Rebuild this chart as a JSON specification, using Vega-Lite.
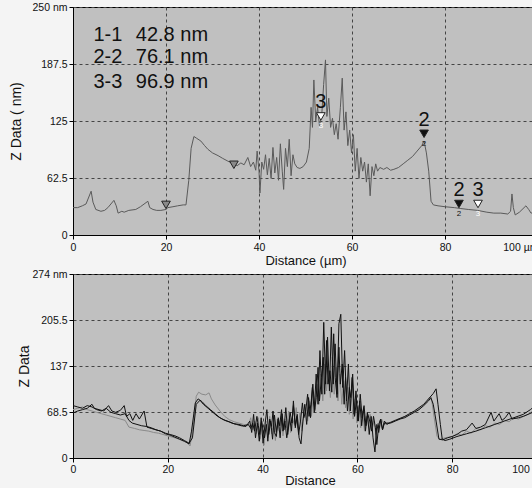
{
  "$schema": "https://vega.github.io/schema/vega-lite/v6.json",
  "background": "#f4f4f4",
  "padding": {"left": 8, "top": 1, "right": -6, "bottom": 0},
  "config": {
    "font": "Liberation Sans",
    "view": {"fill": "#c0c0c0", "stroke": "#000", "strokeWidth": 1},
    "axis": {"labelFont": "Liberation Sans", "labelFontSize": 10.5, "labelColor": "#111", "titleFont": "Liberation Sans", "titleFontWeight": "normal", "titleColor": "#111", "domainColor": "#000", "tickColor": "#000", "tickSize": 4, "gridColor": "#444", "gridDash": [3, 3], "gridOpacity": 1, "gridWidth": 1},
    "axisX": {"labelPadding": 3, "titlePadding": 2, "titleFontSize": 13},
    "axisY": {"labelPadding": 2, "titleFontSize": 14}
  },
  "columns": 1,
  "align": "none",
  "spacing": 0,
  "datasets": {
    "top": [
      {"d": 0, "z": 30}, {"d": 1, "z": 30}, {"d": 2, "z": 32}, {"d": 2.8, "z": 34}, {"d": 3.9, "z": 48}, {"d": 4.3, "z": 36}, {"d": 4.9, "z": 28}, {"d": 6.0, "z": 26}, {"d": 6.8, "z": 27}, {"d": 7.5, "z": 30}, {"d": 8.8, "z": 38}, {"d": 9.3, "z": 32}, {"d": 9.7, "z": 24}, {"d": 10.5, "z": 26}, {"d": 11, "z": 25}, {"d": 12, "z": 27}, {"d": 13.5, "z": 28}, {"d": 14.5, "z": 31}, {"d": 16.1, "z": 37}, {"d": 16.5, "z": 30}, {"d": 17.2, "z": 28}, {"d": 18, "z": 27}, {"d": 18.9, "z": 27}, {"d": 20, "z": 28}, {"d": 20.4, "z": 30}, {"d": 21.5, "z": 31}, {"d": 22.5, "z": 32}, {"d": 23.7, "z": 33}, {"d": 24.3, "z": 33}, {"d": 24.9, "z": 60}, {"d": 25.4, "z": 95}, {"d": 26, "z": 108}, {"d": 26.6, "z": 106}, {"d": 27.5, "z": 103}, {"d": 28.3, "z": 98}, {"d": 29, "z": 94}, {"d": 30, "z": 90}, {"d": 31.2, "z": 87}, {"d": 32.2, "z": 84}, {"d": 33.3, "z": 81}, {"d": 34.6, "z": 78}, {"d": 35.3, "z": 76}, {"d": 36.1, "z": 79}, {"d": 36.8, "z": 77}, {"d": 37.6, "z": 85}, {"d": 38.2, "z": 75}, {"d": 38.8, "z": 80}, {"d": 39.3, "z": 71}, {"d": 39.6, "z": 92}, {"d": 40, "z": 70}, {"d": 40.2, "z": 46}, {"d": 40.6, "z": 80}, {"d": 41, "z": 72}, {"d": 41.4, "z": 88}, {"d": 41.8, "z": 66}, {"d": 42.2, "z": 84}, {"d": 42.6, "z": 62}, {"d": 43.0, "z": 96}, {"d": 43.4, "z": 68}, {"d": 43.8, "z": 85}, {"d": 44.2, "z": 60}, {"d": 44.6, "z": 100}, {"d": 45.0, "z": 70}, {"d": 45.3, "z": 50}, {"d": 45.7, "z": 95}, {"d": 46.1, "z": 75}, {"d": 46.5, "z": 105}, {"d": 46.9, "z": 65}, {"d": 47.3, "z": 88}, {"d": 47.7, "z": 78}, {"d": 48.2, "z": 74}, {"d": 48.8, "z": 73}, {"d": 49.5, "z": 75}, {"d": 50.2, "z": 80}, {"d": 50.8, "z": 95}, {"d": 51.2, "z": 140}, {"d": 51.5, "z": 118}, {"d": 51.8, "z": 170}, {"d": 52.2, "z": 125}, {"d": 52.6, "z": 140}, {"d": 53.0, "z": 120}, {"d": 53.5, "z": 132}, {"d": 53.9, "z": 165}, {"d": 54.3, "z": 192}, {"d": 54.6, "z": 130}, {"d": 55.0, "z": 150}, {"d": 55.4, "z": 118}, {"d": 55.8, "z": 128}, {"d": 56.2, "z": 110}, {"d": 56.6, "z": 122}, {"d": 57.0, "z": 105}, {"d": 57.5, "z": 140}, {"d": 57.9, "z": 172}, {"d": 58.3, "z": 115}, {"d": 58.7, "z": 135}, {"d": 59.1, "z": 98}, {"d": 59.5, "z": 115}, {"d": 59.9, "z": 90}, {"d": 60.3, "z": 110}, {"d": 60.7, "z": 70}, {"d": 61.1, "z": 95}, {"d": 61.5, "z": 62}, {"d": 61.9, "z": 85}, {"d": 62.3, "z": 70}, {"d": 62.7, "z": 80}, {"d": 63.1, "z": 58}, {"d": 63.5, "z": 78}, {"d": 63.9, "z": 43}, {"d": 64.3, "z": 75}, {"d": 64.7, "z": 65}, {"d": 65.1, "z": 78}, {"d": 65.5, "z": 70}, {"d": 66, "z": 74}, {"d": 66.8, "z": 72}, {"d": 67.5, "z": 74}, {"d": 68.3, "z": 71}, {"d": 69, "z": 72}, {"d": 70, "z": 74}, {"d": 71, "z": 78}, {"d": 72, "z": 82}, {"d": 73, "z": 86}, {"d": 74, "z": 92}, {"d": 75, "z": 98}, {"d": 75.5, "z": 103}, {"d": 76, "z": 90}, {"d": 76.5, "z": 70}, {"d": 77, "z": 37}, {"d": 77.5, "z": 33}, {"d": 78.5, "z": 32}, {"d": 80, "z": 31}, {"d": 82, "z": 30}, {"d": 83.4, "z": 29}, {"d": 85, "z": 28}, {"d": 87, "z": 27}, {"d": 89, "z": 25}, {"d": 90.5, "z": 24}, {"d": 92, "z": 24}, {"d": 93.5, "z": 23}, {"d": 94.1, "z": 26}, {"d": 94.4, "z": 45}, {"d": 94.7, "z": 30}, {"d": 95.1, "z": 22}, {"d": 96, "z": 25}, {"d": 97.4, "z": 32}, {"d": 98, "z": 28}, {"d": 98.5, "z": 24}, {"d": 99.5, "z": 25}, {"d": 100, "z": 24}
    ],
    "markers": [
      {"d": 20, "z": 33, "kind": "g", "lab": "", "sub": ""},
      {"d": 34.6, "z": 77, "kind": "g", "lab": "", "sub": ""},
      {"d": 53.3, "z": 130, "kind": "w", "lab": "3", "sub": "3"},
      {"d": 75.5, "z": 111, "kind": "b", "lab": "2", "sub": "2"},
      {"d": 83, "z": 34, "kind": "b", "lab": "2", "sub": "2"},
      {"d": 87.1, "z": 34, "kind": "w", "lab": "3", "sub": "3"}
    ],
    "annot": [
      {"d": 4.4, "z": 212.7, "t": "1-1"}, {"d": 13.5, "z": 212.7, "t": "42.8 nm"},
      {"d": 4.4, "z": 188.1, "t": "2-2"}, {"d": 13.5, "z": 188.1, "t": "76.1 nm"},
      {"d": 4.4, "z": 161.2, "t": "3-3"}, {"d": 13.5, "z": 161.2, "t": "96.9 nm"}
    ],
    "bottom": [
      {"s": "c", "d": 0, "z": 72}, {"s": "c", "d": 1, "z": 74}, {"s": "c", "d": 2, "z": 76}, {"s": "c", "d": 3, "z": 72}, {"s": "c", "d": 4, "z": 70}, {"s": "c", "d": 5, "z": 68}, {"s": "c", "d": 6, "z": 66}, {"s": "c", "d": 7, "z": 64}, {"s": "c", "d": 8, "z": 62}, {"s": "c", "d": 9, "z": 60}, {"s": "c", "d": 10, "z": 58}, {"s": "c", "d": 11, "z": 56}, {"s": "c", "d": 11.8, "z": 46}, {"s": "c", "d": 13, "z": 44}, {"s": "c", "d": 14, "z": 42}, {"s": "c", "d": 15, "z": 41}, {"s": "c", "d": 16, "z": 40}, {"s": "c", "d": 17, "z": 38}, {"s": "c", "d": 18, "z": 37}, {"s": "c", "d": 19, "z": 35}, {"s": "c", "d": 20, "z": 33}, {"s": "c", "d": 21, "z": 31}, {"s": "c", "d": 22, "z": 29}, {"s": "c", "d": 23, "z": 26}, {"s": "c", "d": 24, "z": 23}, {"s": "c", "d": 24.7, "z": 18}, {"s": "c", "d": 25.4, "z": 50}, {"s": "c", "d": 26, "z": 92}, {"s": "c", "d": 26.5, "z": 98}, {"s": "c", "d": 27.2, "z": 95}, {"s": "c", "d": 28, "z": 94}, {"s": "c", "d": 28.7, "z": 97}, {"s": "c", "d": 29.2, "z": 88}, {"s": "c", "d": 30, "z": 79}, {"s": "c", "d": 31, "z": 70}, {"s": "c", "d": 32, "z": 62}, {"s": "c", "d": 33, "z": 57}, {"s": "c", "d": 34, "z": 54}, {"s": "c", "d": 35, "z": 52}, {"s": "c", "d": 36, "z": 50}, {"s": "c", "d": 37, "z": 48},
      {"s": "c", "d": 37.5, "z": 60}, {"s": "c", "d": 37.9, "z": 42}, {"s": "c", "d": 38.3, "z": 55}, {"s": "c", "d": 38.7, "z": 36}, {"s": "c", "d": 39.1, "z": 60}, {"s": "c", "d": 39.5, "z": 28}, {"s": "c", "d": 39.9, "z": 48}, {"s": "c", "d": 40.3, "z": 19}, {"s": "c", "d": 40.7, "z": 55}, {"s": "c", "d": 41.1, "z": 30}, {"s": "c", "d": 41.5, "z": 62}, {"s": "c", "d": 41.9, "z": 36}, {"s": "c", "d": 42.3, "z": 52}, {"s": "c", "d": 42.7, "z": 26}, {"s": "c", "d": 43.1, "z": 58}, {"s": "c", "d": 43.5, "z": 40}, {"s": "c", "d": 43.9, "z": 62}, {"s": "c", "d": 44.3, "z": 33}, {"s": "c", "d": 44.7, "z": 58}, {"s": "c", "d": 45.1, "z": 45}, {"s": "c", "d": 45.5, "z": 70}, {"s": "c", "d": 45.9, "z": 38}, {"s": "c", "d": 46.3, "z": 60}, {"s": "c", "d": 46.7, "z": 50}, {"s": "c", "d": 47.1, "z": 75}, {"s": "c", "d": 47.5, "z": 45}, {"s": "c", "d": 47.9, "z": 68}, {"s": "c", "d": 48.3, "z": 40}, {"s": "c", "d": 48.7, "z": 62}, {"s": "c", "d": 49.1, "z": 75}, {"s": "c", "d": 49.5, "z": 55}, {"s": "c", "d": 49.9, "z": 85}, {"s": "c", "d": 50.3, "z": 62}, {"s": "c", "d": 50.7, "z": 95}, {"s": "c", "d": 51.1, "z": 70}, {"s": "c", "d": 51.5, "z": 110}, {"s": "c", "d": 51.9, "z": 80}, {"s": "c", "d": 52.3, "z": 125}, {"s": "c", "d": 52.7, "z": 85}, {"s": "c", "d": 53.1, "z": 140}, {"s": "c", "d": 53.5, "z": 100}, {"s": "c", "d": 53.9, "z": 130}, {"s": "c", "d": 54.3, "z": 90}, {"s": "c", "d": 54.7, "z": 150}, {"s": "c", "d": 55.1, "z": 95}, {"s": "c", "d": 55.5, "z": 135}, {"s": "c", "d": 55.9, "z": 85}, {"s": "c", "d": 56.3, "z": 125}, {"s": "c", "d": 56.7, "z": 80}, {"s": "c", "d": 57.1, "z": 115}, {"s": "c", "d": 57.5, "z": 75}, {"s": "c", "d": 57.9, "z": 105}, {"s": "c", "d": 58.3, "z": 65}, {"s": "c", "d": 58.7, "z": 95}, {"s": "c", "d": 59.1, "z": 58}, {"s": "c", "d": 59.5, "z": 88}, {"s": "c", "d": 59.9, "z": 52}, {"s": "c", "d": 60.3, "z": 78}, {"s": "c", "d": 60.7, "z": 45}, {"s": "c", "d": 61.1, "z": 70}, {"s": "c", "d": 61.5, "z": 40}, {"s": "c", "d": 61.9, "z": 62}, {"s": "c", "d": 62.3, "z": 50}, {"s": "c", "d": 62.7, "z": 65}, {"s": "c", "d": 63.1, "z": 42}, {"s": "c", "d": 63.5, "z": 55}, {"s": "c", "d": 63.9, "z": 35}, {"s": "c", "d": 64.3, "z": 52}, {"s": "c", "d": 64.7, "z": 45}, {"s": "c", "d": 65.1, "z": 58}, {"s": "c", "d": 65.6, "z": 50}, {"s": "c", "d": 66.5, "z": 52}, {"s": "c", "d": 67.5, "z": 55}, {"s": "c", "d": 68.5, "z": 58}, {"s": "c", "d": 69.5, "z": 60}, {"s": "c", "d": 70.5, "z": 63}, {"s": "c", "d": 71.5, "z": 67}, {"s": "c", "d": 72.5, "z": 71}, {"s": "c", "d": 73.5, "z": 76}, {"s": "c", "d": 74.5, "z": 82}, {"s": "c", "d": 75.2, "z": 90}, {"s": "c", "d": 75.7, "z": 85}, {"s": "c", "d": 76.2, "z": 60}, {"s": "c", "d": 76.8, "z": 32}, {"s": "c", "d": 77.5, "z": 28}, {"s": "c", "d": 78.5, "z": 30}, {"s": "c", "d": 80, "z": 32}, {"s": "c", "d": 81, "z": 36}, {"s": "c", "d": 82, "z": 34}, {"s": "c", "d": 83, "z": 40}, {"s": "c", "d": 84, "z": 37}, {"s": "c", "d": 85, "z": 44}, {"s": "c", "d": 86, "z": 42}, {"s": "c", "d": 87, "z": 48}, {"s": "c", "d": 88, "z": 46}, {"s": "c", "d": 89, "z": 52}, {"s": "c", "d": 90, "z": 50}, {"s": "c", "d": 91, "z": 56}, {"s": "c", "d": 92, "z": 54}, {"s": "c", "d": 93, "z": 60}, {"s": "c", "d": 94, "z": 58}, {"s": "c", "d": 95, "z": 62}, {"s": "c", "d": 96, "z": 65}, {"s": "c", "d": 97, "z": 70}, {"s": "c", "d": 98, "z": 72}, {"s": "c", "d": 100, "z": 74},
      {"s": "b", "d": 0, "z": 78}, {"s": "b", "d": 1, "z": 76}, {"s": "b", "d": 2, "z": 74}, {"s": "b", "d": 3, "z": 78}, {"s": "b", "d": 4, "z": 76}, {"s": "b", "d": 5, "z": 72}, {"s": "b", "d": 6, "z": 70}, {"s": "b", "d": 7, "z": 74}, {"s": "b", "d": 8, "z": 68}, {"s": "b", "d": 9, "z": 66}, {"s": "b", "d": 10, "z": 64}, {"s": "b", "d": 11, "z": 66}, {"s": "b", "d": 11.8, "z": 56}, {"s": "b", "d": 12.5, "z": 52}, {"s": "b", "d": 13.5, "z": 50}, {"s": "b", "d": 14.5, "z": 48}, {"s": "b", "d": 15.5, "z": 47}, {"s": "b", "d": 16.5, "z": 45}, {"s": "b", "d": 17.5, "z": 42}, {"s": "b", "d": 18.5, "z": 40}, {"s": "b", "d": 19.5, "z": 37}, {"s": "b", "d": 20.5, "z": 35}, {"s": "b", "d": 21.5, "z": 33}, {"s": "b", "d": 22.5, "z": 30}, {"s": "b", "d": 23.5, "z": 26}, {"s": "b", "d": 24.5, "z": 22}, {"s": "b", "d": 25.2, "z": 30}, {"s": "b", "d": 26, "z": 80}, {"s": "b", "d": 26.8, "z": 86}, {"s": "b", "d": 27.5, "z": 80}, {"s": "b", "d": 28.5, "z": 74}, {"s": "b", "d": 29.5, "z": 68}, {"s": "b", "d": 30.5, "z": 62}, {"s": "b", "d": 31.5, "z": 58}, {"s": "b", "d": 32.5, "z": 55}, {"s": "b", "d": 33.5, "z": 52}, {"s": "b", "d": 34.5, "z": 50}, {"s": "b", "d": 35.5, "z": 48}, {"s": "b", "d": 36.5, "z": 47},
      {"s": "b", "d": 37.3, "z": 55}, {"s": "b", "d": 37.7, "z": 38}, {"s": "b", "d": 38.1, "z": 65}, {"s": "b", "d": 38.5, "z": 30}, {"s": "b", "d": 38.9, "z": 52}, {"s": "b", "d": 39.3, "z": 25}, {"s": "b", "d": 39.7, "z": 60}, {"s": "b", "d": 40.1, "z": 22}, {"s": "b", "d": 40.5, "z": 50}, {"s": "b", "d": 40.9, "z": 72}, {"s": "b", "d": 41.3, "z": 35}, {"s": "b", "d": 41.7, "z": 55}, {"s": "b", "d": 42.1, "z": 28}, {"s": "b", "d": 42.5, "z": 64}, {"s": "b", "d": 42.9, "z": 38}, {"s": "b", "d": 43.3, "z": 58}, {"s": "b", "d": 43.7, "z": 30}, {"s": "b", "d": 44.1, "z": 66}, {"s": "b", "d": 44.5, "z": 42}, {"s": "b", "d": 44.9, "z": 75}, {"s": "b", "d": 45.3, "z": 35}, {"s": "b", "d": 45.7, "z": 60}, {"s": "b", "d": 46.1, "z": 40}, {"s": "b", "d": 46.5, "z": 85}, {"s": "b", "d": 46.9, "z": 45}, {"s": "b", "d": 47.3, "z": 65}, {"s": "b", "d": 47.7, "z": 30}, {"s": "b", "d": 48.1, "z": 21}, {"s": "b", "d": 48.5, "z": 55}, {"s": "b", "d": 48.9, "z": 80}, {"s": "b", "d": 49.3, "z": 50}, {"s": "b", "d": 49.7, "z": 90}, {"s": "b", "d": 50.1, "z": 60}, {"s": "b", "d": 50.5, "z": 105}, {"s": "b", "d": 50.9, "z": 68}, {"s": "b", "d": 51.3, "z": 125}, {"s": "b", "d": 51.7, "z": 80}, {"s": "b", "d": 52.1, "z": 160}, {"s": "b", "d": 52.5, "z": 95}, {"s": "b", "d": 52.9, "z": 202}, {"s": "b", "d": 53.3, "z": 110}, {"s": "b", "d": 53.7, "z": 180}, {"s": "b", "d": 54.1, "z": 100}, {"s": "b", "d": 54.5, "z": 195}, {"s": "b", "d": 54.9, "z": 110}, {"s": "b", "d": 55.3, "z": 170}, {"s": "b", "d": 55.7, "z": 95}, {"s": "b", "d": 56.1, "z": 200}, {"s": "b", "d": 56.5, "z": 214}, {"s": "b", "d": 56.9, "z": 105}, {"s": "b", "d": 57.3, "z": 160}, {"s": "b", "d": 57.7, "z": 85}, {"s": "b", "d": 58.1, "z": 140}, {"s": "b", "d": 58.5, "z": 70}, {"s": "b", "d": 58.9, "z": 120}, {"s": "b", "d": 59.3, "z": 65}, {"s": "b", "d": 59.7, "z": 100}, {"s": "b", "d": 60.1, "z": 55}, {"s": "b", "d": 60.5, "z": 85}, {"s": "b", "d": 60.9, "z": 48}, {"s": "b", "d": 61.3, "z": 75}, {"s": "b", "d": 61.7, "z": 40}, {"s": "b", "d": 62.1, "z": 68}, {"s": "b", "d": 62.5, "z": 35}, {"s": "b", "d": 62.9, "z": 62}, {"s": "b", "d": 63.3, "z": 30}, {"s": "b", "d": 63.7, "z": 9}, {"s": "b", "d": 64.1, "z": 50}, {"s": "b", "d": 64.5, "z": 38}, {"s": "b", "d": 64.9, "z": 58}, {"s": "b", "d": 65.3, "z": 42}, {"s": "b", "d": 65.7, "z": 55}, {"s": "b", "d": 66.2, "z": 50}, {"s": "b", "d": 67, "z": 53}, {"s": "b", "d": 68, "z": 56}, {"s": "b", "d": 69, "z": 59}, {"s": "b", "d": 70, "z": 62}, {"s": "b", "d": 71, "z": 66}, {"s": "b", "d": 72, "z": 70}, {"s": "b", "d": 73, "z": 75}, {"s": "b", "d": 74, "z": 80}, {"s": "b", "d": 75, "z": 88}, {"s": "b", "d": 76, "z": 96}, {"s": "b", "d": 76.6, "z": 103}, {"s": "b", "d": 77, "z": 80}, {"s": "b", "d": 77.5, "z": 50}, {"s": "b", "d": 77.9, "z": 28}, {"s": "b", "d": 78.5, "z": 26}, {"s": "b", "d": 79.5, "z": 28}, {"s": "b", "d": 81, "z": 32}, {"s": "b", "d": 83, "z": 36}, {"s": "b", "d": 85, "z": 40}, {"s": "b", "d": 87, "z": 45}, {"s": "b", "d": 89, "z": 50}, {"s": "b", "d": 91, "z": 55}, {"s": "b", "d": 93, "z": 60}, {"s": "b", "d": 95, "z": 65}, {"s": "b", "d": 96.5, "z": 72}, {"s": "b", "d": 97.7, "z": 79}, {"s": "b", "d": 98.5, "z": 75}, {"s": "b", "d": 100, "z": 72},
      {"s": "a", "d": 0, "z": 67}, {"s": "a", "d": 1, "z": 70}, {"s": "a", "d": 2, "z": 72}, {"s": "a", "d": 3, "z": 74}, {"s": "a", "d": 4, "z": 80}, {"s": "a", "d": 4.5, "z": 74}, {"s": "a", "d": 5.5, "z": 72}, {"s": "a", "d": 6.5, "z": 70}, {"s": "a", "d": 7.5, "z": 78}, {"s": "a", "d": 8.2, "z": 70}, {"s": "a", "d": 9, "z": 68}, {"s": "a", "d": 10, "z": 71}, {"s": "a", "d": 10.8, "z": 78}, {"s": "a", "d": 11.3, "z": 62}, {"s": "a", "d": 12, "z": 66}, {"s": "a", "d": 12.6, "z": 56}, {"s": "a", "d": 13.3, "z": 66}, {"s": "a", "d": 14, "z": 58}, {"s": "a", "d": 15, "z": 70}, {"s": "a", "d": 15.6, "z": 46}, {"s": "a", "d": 16.5, "z": 44}, {"s": "a", "d": 17.5, "z": 42}, {"s": "a", "d": 18.5, "z": 40}, {"s": "a", "d": 19.5, "z": 36}, {"s": "a", "d": 20.5, "z": 34}, {"s": "a", "d": 21.5, "z": 31}, {"s": "a", "d": 22.5, "z": 28}, {"s": "a", "d": 23.5, "z": 25}, {"s": "a", "d": 24.5, "z": 21}, {"s": "a", "d": 25, "z": 40}, {"s": "a", "d": 25.8, "z": 82}, {"s": "a", "d": 26.4, "z": 88}, {"s": "a", "d": 27.2, "z": 84}, {"s": "a", "d": 28, "z": 78}, {"s": "a", "d": 29, "z": 72}, {"s": "a", "d": 30, "z": 66}, {"s": "a", "d": 31, "z": 60}, {"s": "a", "d": 32, "z": 56}, {"s": "a", "d": 33, "z": 54}, {"s": "a", "d": 34, "z": 51}, {"s": "a", "d": 35, "z": 50}, {"s": "a", "d": 36, "z": 48}, {"s": "a", "d": 37, "z": 50},
      {"s": "a", "d": 37.5, "z": 44}, {"s": "a", "d": 37.9, "z": 52}, {"s": "a", "d": 38.3, "z": 40}, {"s": "a", "d": 38.8, "z": 62}, {"s": "a", "d": 39.1, "z": 48}, {"s": "a", "d": 39.4, "z": 35}, {"s": "a", "d": 39.8, "z": 55}, {"s": "a", "d": 40.1, "z": 42}, {"s": "a", "d": 40.4, "z": 30}, {"s": "a", "d": 40.8, "z": 50}, {"s": "a", "d": 41.1, "z": 25}, {"s": "a", "d": 41.5, "z": 58}, {"s": "a", "d": 41.9, "z": 47}, {"s": "a", "d": 42.2, "z": 70}, {"s": "a", "d": 42.5, "z": 38}, {"s": "a", "d": 42.9, "z": 32}, {"s": "a", "d": 43.3, "z": 60}, {"s": "a", "d": 43.6, "z": 48}, {"s": "a", "d": 44, "z": 72}, {"s": "a", "d": 44.3, "z": 40}, {"s": "a", "d": 44.7, "z": 55}, {"s": "a", "d": 45.1, "z": 30}, {"s": "a", "d": 45.4, "z": 45}, {"s": "a", "d": 45.8, "z": 68}, {"s": "a", "d": 46.2, "z": 52}, {"s": "a", "d": 46.5, "z": 78}, {"s": "a", "d": 46.9, "z": 48}, {"s": "a", "d": 47.2, "z": 62}, {"s": "a", "d": 47.6, "z": 35}, {"s": "a", "d": 48, "z": 55}, {"s": "a", "d": 48.4, "z": 82}, {"s": "a", "d": 48.7, "z": 60}, {"s": "a", "d": 49.1, "z": 70}, {"s": "a", "d": 49.5, "z": 95}, {"s": "a", "d": 49.8, "z": 62}, {"s": "a", "d": 50.2, "z": 80}, {"s": "a", "d": 50.6, "z": 110}, {"s": "a", "d": 51, "z": 72}, {"s": "a", "d": 51.3, "z": 90}, {"s": "a", "d": 51.7, "z": 135}, {"s": "a", "d": 52, "z": 85}, {"s": "a", "d": 52.4, "z": 120}, {"s": "a", "d": 52.8, "z": 150}, {"s": "a", "d": 53.1, "z": 95}, {"s": "a", "d": 53.5, "z": 175}, {"s": "a", "d": 53.8, "z": 110}, {"s": "a", "d": 54.2, "z": 130}, {"s": "a", "d": 54.6, "z": 98}, {"s": "a", "d": 55, "z": 185}, {"s": "a", "d": 55.3, "z": 120}, {"s": "a", "d": 55.7, "z": 90}, {"s": "a", "d": 56.1, "z": 165}, {"s": "a", "d": 56.4, "z": 110}, {"s": "a", "d": 56.8, "z": 140}, {"s": "a", "d": 57.2, "z": 80}, {"s": "a", "d": 57.5, "z": 120}, {"s": "a", "d": 57.9, "z": 70}, {"s": "a", "d": 58.3, "z": 105}, {"s": "a", "d": 58.6, "z": 90}, {"s": "a", "d": 59, "z": 125}, {"s": "a", "d": 59.4, "z": 62}, {"s": "a", "d": 59.8, "z": 85}, {"s": "a", "d": 60.2, "z": 55}, {"s": "a", "d": 60.6, "z": 95}, {"s": "a", "d": 61, "z": 60}, {"s": "a", "d": 61.4, "z": 78}, {"s": "a", "d": 61.8, "z": 48}, {"s": "a", "d": 62.2, "z": 65}, {"s": "a", "d": 62.6, "z": 55}, {"s": "a", "d": 63, "z": 40}, {"s": "a", "d": 63.4, "z": 62}, {"s": "a", "d": 63.8, "z": 45}, {"s": "a", "d": 64.1, "z": 20}, {"s": "a", "d": 64.5, "z": 50}, {"s": "a", "d": 64.9, "z": 58}, {"s": "a", "d": 65.3, "z": 42}, {"s": "a", "d": 65.7, "z": 52}, {"s": "a", "d": 66, "z": 52}, {"s": "a", "d": 67, "z": 52}, {"s": "a", "d": 68, "z": 55}, {"s": "a", "d": 69, "z": 58}, {"s": "a", "d": 70, "z": 60}, {"s": "a", "d": 71, "z": 64}, {"s": "a", "d": 72, "z": 68}, {"s": "a", "d": 73, "z": 72}, {"s": "a", "d": 74, "z": 78}, {"s": "a", "d": 75, "z": 85}, {"s": "a", "d": 75.5, "z": 90}, {"s": "a", "d": 76, "z": 80}, {"s": "a", "d": 76.6, "z": 55}, {"s": "a", "d": 77.2, "z": 28}, {"s": "a", "d": 78, "z": 27}, {"s": "a", "d": 79, "z": 30}, {"s": "a", "d": 80, "z": 32}, {"s": "a", "d": 81, "z": 35}, {"s": "a", "d": 82, "z": 40}, {"s": "a", "d": 83, "z": 42}, {"s": "a", "d": 84.2, "z": 52}, {"s": "a", "d": 85, "z": 44}, {"s": "a", "d": 86, "z": 46}, {"s": "a", "d": 87, "z": 50}, {"s": "a", "d": 88.2, "z": 68}, {"s": "a", "d": 88.8, "z": 55}, {"s": "a", "d": 89.9, "z": 66}, {"s": "a", "d": 90.5, "z": 56}, {"s": "a", "d": 91.2, "z": 60}, {"s": "a", "d": 92, "z": 68}, {"s": "a", "d": 92.6, "z": 58}, {"s": "a", "d": 94, "z": 60}, {"s": "a", "d": 95, "z": 62}, {"s": "a", "d": 96, "z": 65}, {"s": "a", "d": 97, "z": 68}, {"s": "a", "d": 98, "z": 70}, {"s": "a", "d": 100, "z": 72}
    ]
  },
  "concat": [
    {
      "width": 465,
      "height": 228,
      "encoding": {
        "x": {"field": "d", "type": "quantitative", "scale": {"domain": [0, 100], "nice": false},
          "axis": {"title": "Distance (µm)", "values": [0, 20, 40, 60, 80, 100], "grid": true,
            "labelExpr": "datum.value == 100 ? '100 µm' : datum.label",
            "labelAlign": {"condition": {"test": "datum.value == 100", "value": "right"}, "value": "center"}}},
        "y": {"field": "z", "type": "quantitative", "scale": {"domain": [0, 250], "nice": false},
          "axis": {"title": "Z Data ( nm)", "values": [0, 62.5, 125, 187.5, 250], "grid": true,
            "labelExpr": "datum.value == 250 ? '250 nm' : '' + datum.value",
            "minExtent": 41, "maxExtent": 41, "titlePadding": 9}}
      },
      "layer": [
        {"data": {"name": "top"}, "mark": {"type": "line", "color": "#5a5a5a", "strokeWidth": 1}},
        {"data": {"name": "markers"}, "mark": {"type": "point", "shape": "triangle-down", "filled": true, "size": 75, "opacity": 1, "stroke": "#222", "strokeWidth": 1},
          "encoding": {"color": {"field": "kind", "type": "nominal", "scale": {"domain": ["g", "b", "w"], "range": ["#8a8a8a", "#111111", "#ffffff"]}, "legend": null}}},
        {"data": {"name": "markers"}, "mark": {"type": "text", "fontSize": 20, "baseline": "alphabetic", "align": "center", "dy": -8, "color": "#111"},
          "encoding": {"text": {"field": "lab"}}},
        {"data": {"name": "markers"}, "mark": {"type": "text", "fontSize": 8, "baseline": "middle", "align": "center", "dy": 10},
          "encoding": {"text": {"field": "sub"}, "color": {"field": "kind", "type": "nominal", "scale": {"domain": ["g", "b", "w"], "range": ["#8a8a8a", "#111111", "#e6e6e6"]}, "legend": null}}},
        {"data": {"name": "annot"}, "mark": {"type": "text", "fontSize": 20, "baseline": "alphabetic", "align": "left", "color": "#111"},
          "encoding": {"text": {"field": "t"}}}
      ]
    },
    {
      "width": 474,
      "height": 184,
      "data": {"name": "bottom"},
      "mark": {"type": "line", "strokeWidth": 1},
      "encoding": {
        "x": {"field": "d", "type": "quantitative", "scale": {"domain": [0, 100], "nice": false},
          "axis": {"title": "Distance", "values": [0, 20, 40, 60, 80, 100], "grid": true, "labelPadding": 2, "titlePadding": 0,
            "labelExpr": "datum.value == 100 ? '100 µm' : datum.label",
            "labelAlign": {"condition": {"test": "datum.value == 100", "value": "right"}, "value": "center"}}},
        "y": {"field": "z", "type": "quantitative", "scale": {"domain": [0, 274], "nice": false},
          "axis": {"title": "Z Data", "values": [0, 68.5, 137, 205.5, 274], "grid": true,
            "labelExpr": "datum.value == 274 ? '274 nm' : '' + datum.value",
            "minExtent": 38, "maxExtent": 38, "titlePadding": 4}},
        "color": {"field": "s", "type": "nominal", "scale": {"domain": ["c", "b", "a"], "range": ["#7c7c7c", "#4a4a4a", "#111111"]}, "legend": null}
      }
    }
  ]
}
